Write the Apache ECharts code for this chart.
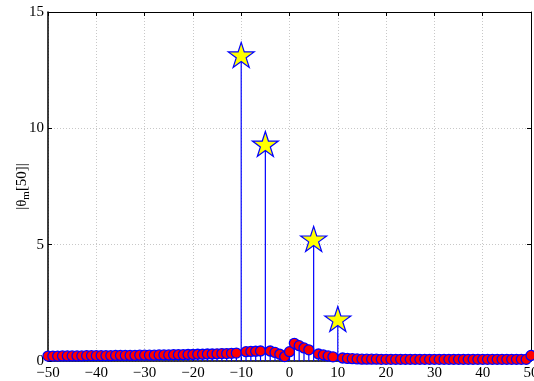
<!DOCTYPE html>
<html>
<head>
<meta charset="utf-8">
<script src="https://cdn.jsdelivr.net/npm/echarts@6/dist/echarts.min.js"></script>
<style>
  html, body { margin: 0; padding: 0; background: #fff; }
  #chart { width: 534px; height: 381px; }
</style>
</head>
<body>
<div id="chart"></div>
<script>
// Harmonic index m and coefficient magnitudes |theta_m[50]|
const mIndex = [];
for (let m = -50; m <= 50; m++) mIndex.push(m);

const magnitude = [
  0.21, 0.21, 0.21, 0.22, 0.22, 0.22, 0.22, 0.22, 0.23, 0.23,   // -50..-41
  0.23, 0.23, 0.23, 0.23, 0.24, 0.24, 0.24, 0.24, 0.24, 0.25,   // -40..-31
  0.25, 0.25, 0.25, 0.26, 0.26, 0.26, 0.27, 0.27, 0.27, 0.28,   // -30..-21
  0.28, 0.29, 0.29, 0.30, 0.30, 0.31, 0.32, 0.32, 0.33, 0.34,   // -20..-11
  13.2, 0.40, 0.41, 0.42, 0.43, 9.37, 0.43, 0.37, 0.29, 0.19,   // -10..-1
  0.40,                                                         // 0
  0.76, 0.66, 0.56, 0.48, 5.29, 0.30, 0.26, 0.22, 0.18, 1.85,   // 1..10
  0.13, 0.11, 0.10, 0.09, 0.08, 0.08, 0.08, 0.08, 0.07, 0.07,   // 11..20
  0.07, 0.07, 0.07, 0.07, 0.07, 0.07, 0.07, 0.07, 0.07, 0.07,   // 21..30
  0.07, 0.07, 0.07, 0.07, 0.07, 0.07, 0.07, 0.07, 0.07, 0.07,   // 31..40
  0.07, 0.07, 0.07, 0.07, 0.07, 0.07, 0.07, 0.07, 0.07, 0.24    // 41..50
];

// Indices of the dominant components, drawn with star markers
const peakIndex = [-10, -5, 5, 10];

const xTicks = { min: -50, max: 50, step: 10 };
const yTicks = { min: 0, max: 15, step: 5 };

const allPoints = mIndex.map((m, i) => [m, magnitude[i]]);
const circlePoints = allPoints.filter(p => peakIndex.indexOf(p[0]) < 0);
const starPoints = allPoints.filter(p => peakIndex.indexOf(p[0]) >= 0);

const STAR = 'path://M0,-1000L224.5,-309L951,-309L363,118L588,809L0,382L-588,809L-363,118L-951,-309L-224.5,-309Z';
const STEM_COLOR = '#0000ff';
const FONT = '"Liberation Serif", "DejaVu Serif", serif';

const fmt = v => String(v).replace('-', '\u2212');

const chart = echarts.init(document.getElementById('chart'), null, { renderer: 'canvas' });

const frameAxis = {
  axisLine: { show: true, onZero: false, lineStyle: { color: '#000', width: 1 } },
  axisTick: { show: true, inside: true, length: 4, lineStyle: { color: '#000' } },
  axisLabel: { show: false },
  splitLine: { show: false }
};

chart.setOption({
  animation: false,
  backgroundColor: '#fff',
  grid: { left: 48, right: 3, top: 12, bottom: 20, containLabel: false, outerBoundsMode: 'none' },
  xAxis: [
    {
      type: 'value', min: xTicks.min, max: xTicks.max, interval: xTicks.step,
      position: 'bottom',
      axisLine: { onZero: false, lineStyle: { color: '#000', width: 1.5 } },
      axisTick: { inside: true, length: 4, lineStyle: { color: '#000' } },
      axisLabel: { color: '#000', fontFamily: FONT, fontSize: 15, margin: 5, formatter: fmt },
      splitLine: { show: true, lineStyle: { color: '#c8c8c8', type: [1, 2], width: 1 } }
    },
    Object.assign({ type: 'value', min: xTicks.min, max: xTicks.max, interval: xTicks.step, position: 'top' }, frameAxis)
  ],
  yAxis: [
    {
      type: 'value', min: yTicks.min, max: yTicks.max, interval: yTicks.step,
      position: 'left',
      axisLine: { show: true, onZero: false, lineStyle: { color: '#000', width: 1.5 } },
      axisTick: { show: true, inside: true, length: 4, lineStyle: { color: '#000' } },
      axisLabel: { color: '#000', fontFamily: FONT, fontSize: 15, margin: 4, formatter: fmt },
      splitLine: { show: true, lineStyle: { color: '#c8c8c8', type: [1, 2], width: 1 } },
      name: '|θ{sub|m}[50]|',
      nameLocation: 'middle',
      nameRotate: 90,
      nameGap: 16,
      nameMoveOverlap: false,
      nameTextStyle: {
        color: '#000', fontFamily: FONT, fontSize: 15,
        rich: { sub: { fontFamily: FONT, fontSize: 11, verticalAlign: 'bottom', padding: [8, 0, 0, 0] } }
      }
    },
    Object.assign({ type: 'value', min: yTicks.min, max: yTicks.max, interval: yTicks.step, position: 'right' }, frameAxis)
  ],
  series: [
    {
      // stems from the baseline to each value
      type: 'custom',
      data: allPoints,
      z: 1,
      renderItem: function (params, api) {
        const x = api.value(0);
        const y = api.value(1);
        const p0 = api.coord([x, 0]);
        const p1 = api.coord([x, y]);
        return {
          type: 'line',
          shape: { x1: p0[0], y1: p0[1], x2: p1[0], y2: p1[1] },
          style: { stroke: STEM_COLOR, lineWidth: 1.2 }
        };
      }
    },
    {
      type: 'scatter',
      data: circlePoints,
      z: 2,
      symbol: 'circle',
      symbolSize: 10,
      itemStyle: { color: '#ff0000', borderColor: STEM_COLOR, borderWidth: 1.3, opacity: 1 }
    },
    {
      type: 'scatter',
      data: starPoints,
      z: 3,
      symbol: STAR,
      symbolSize: [26, 25],
      symbolOffset: [0, 1],
      itemStyle: { color: '#ffff00', borderColor: STEM_COLOR, borderWidth: 1.2, opacity: 1 }
    }
  ]
});
</script>
</body>
</html>
